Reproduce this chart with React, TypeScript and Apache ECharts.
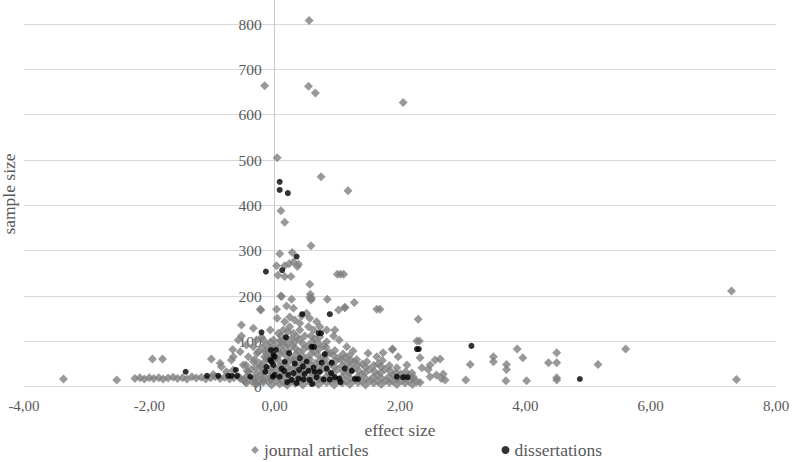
import React, { useEffect, useRef } from "react";
import * as echarts from "echarts";

const xTicks = [-4, -2, 0, 2, 4, 6, 8];
const yTicks = [0, 100, 200, 300, 400, 500, 600, 700, 800];
const seriesNames = ["journal articles", "dissertations"];

const journalArticles: number[][] = [
  // outliers
  [0.55, 808], [-0.16, 664], [0.54, 663], [0.65, 648], [2.05, 627], [0.04, 505], [0.74, 463], [1.17, 432],
  [0.10, 388], [0.16, 363], [7.29, 211], [7.37, 16],
  [0.58, 311], [0.08, 293], [0.28, 296], [0.03, 267], [0.16, 267], [0.23, 271], [0.30, 275], [0.36, 265],
  [0.38, 270], [0.05, 246], [0.16, 243], [0.26, 243], [0.56, 226], [0.56, 197], [0.58, 191], [0.84, 193],
  [1.00, 248], [1.05, 248], [1.10, 248], [1.27, 186], [0.10, 200], [-0.23, 171], [1.63, 171], [1.68, 171],
  [1.12, 175], [0.03, 171],
  // 100-200 range
  [0.19, 178], [0.30, 173], [0.24, 154], [0.16, 143], [0.32, 147], [0.43, 156], [0.51, 162], [0.56, 151],
  [0.67, 143], [0.72, 132], [0.83, 125], [0.94, 112], [0.96, 125], [1.02, 169], [1.12, 174], [1.03, 103],
  [1.15, 88], [1.25, 79], [1.49, 74], [1.63, 66], [1.88, 82], [1.73, 75], [1.97, 66], [0.27, 193],
  [0.59, 195], [0.57, 204], [-0.07, 125], [-0.18, 103], [-0.13, 92], [0.06, 118], [-0.02, 103], [0.14, 125],
  [0.11, 99], [0.30, 118], [0.40, 125], [0.48, 112], [0.62, 125], [0.54, 132], [0.40, 140], [0.24, 132],
  [0.72, 110], [0.83, 99], [0.04, 151], [0.11, 199],
  // left of zero
  [-0.53, 136], [-0.34, 129], [-0.53, 112], [-0.58, 103], [-0.22, 169], [-0.67, 82], [-0.87, 52], [-0.85, 44],
  [-0.66, 66], [-0.42, 66], [-0.69, 59], [-0.55, 77], [-0.45, 92], [-0.34, 88], [-0.29, 103], [-0.26, 77],
  [-0.34, 55], [-0.50, 48], [-0.66, 37], [-0.42, 33], [-0.23, 44], [-0.13, 63], [-0.15, 77], [-0.07, 22],
  [-0.18, 15], [-0.34, 18], [-0.29, 7], [-0.47, 11], [-0.55, 18], [-0.98, 27], [-0.77, 33], [-0.21, 109],
  // left tail
  [-3.37, 17], [-2.52, 15], [-1.95, 61], [-1.79, 61], [-1.01, 61],
  [-2.23, 18], [-2.15, 20], [-2.08, 17], [-2.00, 20], [-1.93, 18], [-1.85, 20], [-1.78, 17], [-1.70, 19],
  [-1.62, 21], [-1.55, 18], [-1.47, 20], [-1.40, 17], [-1.32, 22], [-1.25, 19], [-1.17, 21], [-1.10, 17],
  [-1.02, 20], [-0.95, 22], [-0.87, 18], [-0.80, 21], [-0.72, 17], [-0.65, 20], [-0.57, 22], [-0.50, 15],
  // dense cluster
  [-0.45, 8], [-0.45, 22], [-0.44, 35], [-0.46, 48],
  [-0.30, 5], [-0.31, 18], [-0.29, 30], [-0.30, 43], [-0.32, 60], [-0.28, 74],
  [-0.18, 10], [-0.17, 24], [-0.19, 38], [-0.18, 52], [-0.16, 66], [-0.20, 86],
  [-0.05, 4], [-0.06, 16], [-0.04, 29], [-0.05, 42], [-0.06, 56], [-0.04, 70], [-0.05, 84], [-0.07, 98],
  [0.08, 6], [0.07, 19], [0.09, 32], [0.08, 45], [0.06, 58], [0.09, 72], [0.07, 86], [0.08, 100], [0.10, 112],
  [0.20, 3], [0.21, 15], [0.19, 28], [0.20, 41], [0.22, 54], [0.19, 67], [0.21, 80], [0.20, 94], [0.18, 108], [0.21, 122],
  [0.33, 7], [0.32, 20], [0.34, 33], [0.33, 46], [0.31, 59], [0.34, 72], [0.33, 85], [0.32, 98], [0.35, 110],
  [0.45, 4], [0.46, 17], [0.44, 30], [0.45, 43], [0.47, 56], [0.44, 69], [0.46, 82], [0.45, 95],
  [0.58, 8], [0.57, 21], [0.59, 34], [0.58, 47], [0.56, 60], [0.59, 73], [0.57, 86], [0.60, 99], [0.58, 112],
  [0.70, 5], [0.71, 18], [0.69, 31], [0.70, 44], [0.72, 57], [0.69, 70], [0.71, 83], [0.70, 96],
  [0.83, 9], [0.82, 22], [0.84, 35], [0.83, 48], [0.81, 61], [0.84, 74], [0.82, 87],
  [0.95, 4], [0.96, 17], [0.94, 30], [0.95, 43], [0.97, 56], [0.94, 69], [0.96, 80],
  [1.08, 8], [1.07, 21], [1.09, 34], [1.08, 47], [1.06, 60], [1.09, 72],
  [1.20, 5], [1.21, 18], [1.19, 31], [1.20, 44], [1.22, 57], [1.19, 68],
  [1.33, 9], [1.32, 22], [1.34, 35], [1.33, 48], [1.31, 60],
  [1.45, 4], [1.46, 17], [1.44, 30], [1.45, 43], [1.47, 55],
  [1.58, 8], [1.57, 21], [1.59, 34], [1.58, 47],
  [1.70, 5], [1.71, 18], [1.69, 31], [1.70, 44], [1.72, 58],
  [1.83, 9], [1.82, 22], [1.84, 35], [1.83, 47],
  [1.95, 5], [1.96, 17], [1.94, 30], [1.95, 42],
  [2.08, 8], [2.07, 20], [2.09, 33],
  [2.20, 5], [2.21, 17], [2.19, 30],
  // interleaved fill of the dense cluster
  [0.02, 12], [0.02, 37], [0.03, 63], [0.01, 90],
  [0.14, 10], [0.14, 25], [0.15, 50], [0.13, 77], [0.15, 92],
  [0.27, 12], [0.26, 38], [0.27, 62], [0.28, 90], [0.26, 105],
  [0.39, 12], [0.40, 26], [0.39, 52], [0.38, 78], [0.40, 104],
  [0.52, 13], [0.51, 38], [0.52, 64], [0.53, 90],
  [0.64, 12], [0.64, 27], [0.65, 52], [0.63, 79], [0.64, 105],
  [0.77, 13], [0.76, 39], [0.77, 65], [0.78, 90],
  [0.89, 12], [0.89, 27], [0.90, 52], [0.88, 75],
  [1.02, 13], [1.01, 39], [1.02, 63],
  [1.14, 12], [1.14, 27], [1.15, 52], [1.13, 64],
  [1.27, 14], [1.26, 39], [1.27, 55],
  [1.39, 12], [1.39, 27], [1.40, 50],
  [1.52, 13], [1.51, 38],
  [1.64, 12], [1.64, 26], [1.65, 50],
  [1.77, 13], [1.76, 38],
  [1.89, 12], [1.89, 26],
  [2.02, 13], [2.01, 28],
  [2.14, 12], [2.14, 24],
  [-0.11, 12], [-0.12, 37], [-0.11, 62], [-0.10, 78],
  [-0.24, 14], [-0.23, 26], [-0.24, 52],
  [-0.37, 12], [-0.38, 38],
  // right side
  [2.29, 149], [2.27, 101], [2.31, 101], [1.88, 83], [2.32, 64], [2.11, 48], [2.35, 42], [2.45, 38],
  [2.48, 48], [2.56, 59], [2.64, 61], [2.48, 22], [2.58, 26], [2.66, 18], [2.72, 15], [2.69, 28],
  [2.27, 11], [2.21, 22], [2.32, 9], [3.05, 15], [3.12, 49], [3.49, 66], [3.49, 55], [3.70, 49],
  [3.70, 38], [3.69, 13], [3.87, 83], [3.96, 64], [4.02, 13], [4.37, 53], [4.50, 53], [4.50, 75],
  [4.50, 20], [4.50, 15], [5.16, 49], [5.60, 83],
];

const dissertations: number[][] = [
  [0.08, 452], [0.08, 434], [0.21, 427], [0.35, 287], [-0.14, 254], [0.12, 257], [0.44, 160], [0.88, 160],
  [-0.21, 120], [0.18, 109], [0.70, 118], [0.74, 118], [0.59, 88], [0.63, 88], [0.02, 81], [0.80, 72],
  [0.23, 74], [0.40, 63], [0.51, 55], [0.75, 53], [0.91, 53], [1.12, 40], [1.23, 35], [1.28, 17],
  [1.33, 17], [1.95, 22], [-0.02, 70], [-0.02, 48], [0.11, 40], [0.16, 55], [0.32, 51], [0.39, 37],
  [0.54, 35], [0.64, 33], [0.72, 33], [0.83, 40], [0.96, 21], [1.03, 18], [0.00, 26], [0.08, 22],
  [0.22, 26], [0.27, 15], [0.46, 16], [0.56, 15], [0.67, 21], [0.78, 16], [0.88, 16], [-0.07, 59],
  [0.48, 28], [0.38, 18], [-0.03, 22], [-1.42, 33], [-1.08, 24], [-0.90, 24], [-0.74, 24], [-0.69, 24],
  [-0.62, 37], [-0.60, 24], [-0.39, 22], [-0.15, 33], [-0.06, 81], [-0.05, 55], [-0.13, 44], [0.00, 66],
  [2.27, 83], [2.30, 83], [3.14, 90], [2.05, 21], [2.12, 21], [4.87, 17],
  [0.20, 10], [0.35, 8], [0.60, 6], [0.15, 35], [0.30, 30], [0.45, 45], [0.62, 42], [0.90, 30], [1.05, 10],
];

const FONT = "Liberation Serif, Times New Roman, serif";
const TEXT = "#595959";
const GRID_LEFT = 24;
const GRID_WIDTH = 752;

export default function App() {
  const ref = useRef<HTMLDivElement>(null);
  useEffect(() => {
    if (!ref.current) return;
    const chart = echarts.init(ref.current, undefined, { renderer: "svg" });
    const xMin = xTicks[0];
    const xMax = xTicks[xTicks.length - 1];
    const zeroOffset = (GRID_WIDTH * (0 - xMin)) / (xMax - xMin);
    chart.setOption({
      animation: false,
      backgroundColor: "#ffffff",
      textStyle: { fontFamily: FONT },
      grid: {
        left: GRID_LEFT,
        width: GRID_WIDTH,
        top: -21.3,
        bottom: 75.3,
        containLabel: false,
        outerBoundsMode: "none",
      },
      xAxis: {
        type: "value",
        min: xMin,
        max: xMax,
        interval: 2,
        name: "effect size",
        nameLocation: "middle",
        nameGap: 34,
        nameTextStyle: { fontFamily: FONT, fontSize: 17.5, color: TEXT },
        axisLine: { show: true, onZero: false, lineStyle: { color: "#d9d9d9", width: 1 } },
        axisTick: { show: false },
        splitLine: { show: false },
        axisLabel: {
          fontFamily: FONT,
          fontSize: 15,
          color: TEXT,
          margin: 12,
          formatter: (v: number) => v.toFixed(2).replace(".", ","),
        },
      },
      yAxis: {
        type: "value",
        min: 0,
        max: 900,
        interval: 100,
        offset: -zeroOffset,
        axisLine: { show: true, onZero: false, lineStyle: { color: "#c8c8c8", width: 1 } },
        axisTick: { show: false },
        splitLine: { show: true, lineStyle: { color: "#d9d9d9", width: 1 } },
        axisLabel: {
          fontFamily: FONT,
          fontSize: 15.5,
          color: TEXT,
          margin: 13,
          formatter: (v: number) => (yTicks.indexOf(v) >= 0 ? String(v) : ""),
        },
      },
      legend: {
        left: 251,
        top: 441,
        padding: 0,
        itemGap: 133,
        itemWidth: 8,
        itemHeight: 8,
        textStyle: { fontFamily: FONT, fontSize: 17.5, color: TEXT },
        data: [
          { name: seriesNames[0], icon: "diamond" },
          { name: seriesNames[1], icon: "circle" },
        ],
      },
      graphic: [
        {
          type: "text",
          x: 9,
          y: 194,
          rotation: Math.PI / 2,
          style: {
            text: "sample size",
            fontFamily: FONT,
            fontSize: 17.5,
            fill: TEXT,
            align: "center",
            verticalAlign: "middle",
          },
        },
      ],
      series: [
        {
          name: seriesNames[0],
          type: "scatter",
          symbol: "diamond",
          symbolSize: 9,
          itemStyle: { color: "#7f7f7f" },
          data: journalArticles,
        },
        {
          name: seriesNames[1],
          type: "scatter",
          symbol: "circle",
          symbolSize: 6,
          itemStyle: { color: "#000000" },
          data: dissertations,
        },
      ],
    });
    return () => chart.dispose();
  }, []);
  return <div ref={ref} style={{ width: 793, height: 462, position: "absolute", left: 0, top: 0 }} />;
}
